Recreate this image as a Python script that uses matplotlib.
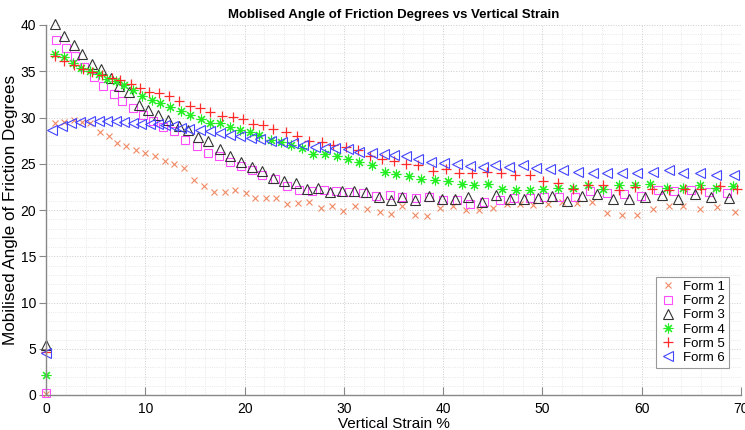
import numpy as np
import matplotlib
matplotlib.use('Agg')
import matplotlib.pyplot as plt
from matplotlib.ticker import MultipleLocator

plt.rcParams['font.family'] = ['Liberation Sans', 'DejaVu Sans']

# Form 1 (x markers)
f1_x = [0, 0.9, 1.8, 2.8, 3.6, 4.4, 5.4, 6.3, 7.2, 8.1, 9.1, 10.0, 11.0, 12.0, 12.9, 13.9,
        14.9, 15.9, 16.9, 18.0, 19.0, 20.1, 21.1, 22.2, 23.2, 24.3, 25.4, 26.5, 27.7, 28.8,
        29.9, 31.1, 32.3, 33.6, 34.7, 35.9, 37.2, 38.4, 39.7, 41.0, 42.3, 43.6, 45.0, 46.4,
        47.7, 49.1, 50.6, 52.0, 53.5, 55.0, 56.5, 58.0, 59.5, 61.1, 62.7, 64.2, 65.9, 67.6, 69.4]
f1_y = [0.1, 29.4, 29.5, 29.7, 29.5, 29.4, 28.4, 28.0, 27.2, 26.9, 26.5, 26.2, 25.8, 25.3, 25.0, 24.5,
        23.2, 22.6, 22.0, 21.9, 22.2, 21.8, 21.3, 21.3, 21.3, 20.6, 20.8, 20.9, 20.2, 20.4,
        19.9, 20.4, 20.1, 19.8, 19.6, 20.4, 19.5, 19.4, 20.2, 20.4, 20.0, 20.0, 20.2, 20.6,
        20.7, 20.5, 20.6, 20.9, 20.8, 20.9, 19.7, 19.5, 19.5, 20.1, 20.4, 20.4, 20.1, 20.3, 19.8]

# Form 2 (squares)
f2_x = [0, 1.0, 2.0, 2.9, 3.8, 4.8, 5.7, 6.8, 7.7, 8.8, 9.8, 10.8, 11.8, 12.9, 14.0, 15.2,
        16.3, 17.4, 18.5, 19.6, 20.7, 21.8, 23.1, 24.3, 25.5, 26.8, 28.0, 29.2, 30.5, 31.9,
        33.2, 34.6, 35.9, 37.3, 38.6, 40.0, 41.4, 42.7, 44.1, 45.7, 47.1, 48.7, 50.2, 51.7,
        53.3, 54.8, 56.5, 58.2, 59.9, 61.6, 63.3, 65.0, 66.8, 68.6]
f2_y = [0.2, 38.4, 37.5, 36.6, 35.5, 34.4, 33.4, 32.5, 31.8, 31.0, 30.3, 29.6, 29.0, 28.5, 27.6, 26.9,
        26.2, 25.8, 25.2, 24.8, 24.3, 23.8, 23.4, 22.6, 22.2, 22.1, 22.2, 22.1, 21.9, 21.8,
        21.5, 21.6, 21.4, 21.3, 21.4, 21.1, 21.1, 20.7, 20.9, 21.1, 21.3, 21.3, 21.4, 21.4,
        21.4, 22.1, 21.8, 21.7, 21.5, 22.2, 22.1, 22.2, 22.0, 21.8]

# Form 3 (triangles up)
f3_x = [0, 0.9, 1.8, 2.8, 3.6, 4.6, 5.5, 6.5, 7.4, 8.4, 9.4, 10.3, 11.3, 12.3, 13.4, 14.3,
        15.3, 16.3, 17.5, 18.5, 19.6, 20.7, 21.8, 22.9, 24.0, 25.2, 26.3, 27.4, 28.6, 29.8,
        31.0, 32.2, 33.5, 34.7, 35.9, 37.2, 38.6, 39.9, 41.2, 42.5, 43.9, 45.3, 46.7, 48.1,
        49.6, 51.0, 52.5, 54.0, 55.5, 57.1, 58.7, 60.3, 62.0, 63.7, 65.4, 67.0, 68.8]
f3_y = [5.4, 40.1, 38.8, 37.8, 36.9, 35.8, 35.2, 34.3, 33.4, 32.8, 31.4, 30.8, 30.3, 29.7, 29.1, 28.6,
        27.9, 27.5, 26.6, 25.8, 25.2, 24.6, 24.2, 23.5, 23.1, 22.9, 22.3, 22.4, 22.0, 22.1,
        22.1, 21.9, 21.4, 21.1, 21.4, 21.1, 21.5, 21.2, 21.2, 21.4, 20.9, 21.6, 21.2, 21.2,
        21.3, 21.5, 21.0, 21.5, 21.7, 21.2, 21.2, 21.4, 21.6, 21.2, 21.7, 21.4, 21.3]

# Form 4 (asterisks)
f4_x = [0, 0.9, 1.8, 2.7, 3.5, 4.4, 5.3, 6.1, 7.1, 7.9, 8.8, 9.7, 10.7, 11.5, 12.5, 13.6,
        14.5, 15.6, 16.5, 17.5, 18.5, 19.5, 20.5, 21.5, 22.7, 23.7, 24.7, 25.8, 26.9, 28.1,
        29.3, 30.4, 31.5, 32.8, 34.1, 35.3, 36.6, 37.8, 39.2, 40.5, 41.9, 43.1, 44.5, 45.9,
        47.3, 48.7, 50.1, 51.6, 53.1, 54.6, 56.1, 57.7, 59.3, 60.8, 62.5, 64.2, 65.9, 67.5, 69.2]
f4_y = [2.2, 36.9, 36.5, 35.9, 35.4, 35.0, 34.7, 34.2, 33.9, 33.5, 33.0, 32.3, 31.9, 31.6, 31.1, 30.7,
        30.3, 29.8, 29.4, 29.4, 29.0, 28.7, 28.4, 28.1, 27.6, 27.3, 27.0, 26.7, 26.1, 26.1,
        25.8, 25.5, 25.2, 24.9, 24.1, 23.9, 23.7, 23.3, 23.2, 23.1, 22.8, 22.7, 22.8, 22.3,
        22.2, 22.2, 22.3, 22.4, 22.4, 22.7, 22.3, 22.7, 22.7, 22.8, 22.4, 22.4, 22.7, 22.4, 22.6]

# Form 5 (plus)
f5_x = [0, 0.9, 1.8, 2.8, 3.7, 4.6, 5.6, 6.6, 7.5, 8.6, 9.5, 10.4, 11.4, 12.4, 13.4, 14.5,
        15.5, 16.5, 17.7, 18.8, 19.8, 20.8, 21.9, 22.9, 24.2, 25.3, 26.5, 27.8, 28.9, 30.2,
        31.4, 32.6, 33.8, 35.0, 36.3, 37.5, 39.0, 40.3, 41.6, 42.9, 44.4, 45.8, 47.2, 48.7,
        50.1, 51.6, 53.1, 54.6, 56.1, 57.7, 59.3, 61.0, 62.7, 64.4, 66.0, 67.9, 69.6]
f5_y = [4.6, 36.6, 36.1, 35.7, 35.2, 34.9, 34.6, 34.3, 34.1, 33.6, 33.2, 32.8, 32.6, 32.3, 31.8, 31.2,
        31.0, 30.6, 30.2, 30.1, 29.8, 29.3, 29.2, 28.8, 28.4, 28.0, 27.5, 27.3, 27.0, 26.8,
        26.5, 25.8, 25.5, 25.3, 25.0, 24.9, 24.2, 24.4, 24.0, 24.0, 24.1, 24.0, 23.8, 23.8,
        23.1, 22.9, 22.3, 22.7, 22.7, 22.2, 22.5, 22.3, 22.2, 22.3, 22.3, 22.6, 22.3]

# Form 6 (triangles left)
f6_x = [0, 0.6, 1.6, 2.5, 3.4, 4.4, 5.3, 6.1, 7.1, 7.9, 8.8, 9.6, 10.5, 11.3, 12.0, 12.8,
        13.6, 14.4, 15.5, 16.5, 17.5, 18.5, 19.5, 20.6, 21.6, 22.7, 23.8, 24.9, 25.9, 27.1,
        28.1, 29.1, 30.4, 31.5, 32.8, 34.0, 35.1, 36.3, 37.5, 38.8, 40.1, 41.4, 42.7, 44.0,
        45.2, 46.6, 48.0, 49.4, 50.8, 52.1, 53.6, 55.1, 56.5, 58.0, 59.5, 61.1, 62.7, 64.2,
        65.9, 67.5, 69.3]
f6_y = [4.5, 28.6, 29.1, 29.4, 29.5, 29.6, 29.6, 29.6, 29.6, 29.5, 29.4, 29.3, 29.3, 29.3, 29.2, 29.1,
        28.9, 28.8, 28.6, 28.5, 28.3, 28.1, 28.0, 27.8, 27.7, 27.5, 27.3, 27.2, 27.0, 26.8,
        26.7, 26.7, 26.6, 26.3, 26.2, 26.1, 25.9, 25.8, 25.5, 25.2, 25.1, 25.0, 24.8, 24.7,
        24.9, 24.7, 24.9, 24.5, 24.4, 24.3, 24.1, 24.0, 24.0, 24.0, 24.0, 24.1, 24.3, 24.0,
        24.0, 23.8, 23.8]

labels = ['Form 1', 'Form 2', 'Form 3', 'Form 4', 'Form 5', 'Form 6']

fig = plt.figure(figsize=(7.45, 4.30), dpi=100)
ax = fig.add_axes([46/745, 1 - 395/430, 695/745, 370/430])

# one plot call per form, marker-only like the matlab original
ax.plot(f1_x, f1_y, ls='none', marker='x', ms=5, mew=0.8, color='#f08a64', label=labels[0], clip_on=False)
ax.plot(f2_x, f2_y, ls='none', marker='s', ms=5.5, mew=0.8, mfc='none', mec='#ff4cff', label=labels[1], clip_on=False)
ax.plot(f3_x, f3_y, ls='none', marker='^', ms=7, mew=0.8, mfc='none', mec='#333333', label=labels[2], clip_on=False)
ax.plot(f4_x, f4_y, ls='none', marker=(8, 2, 0), ms=7, mew=0.8, color='#22ee22', label=labels[3], clip_on=False)
ax.plot(f5_x, f5_y, ls='none', marker='+', ms=7, mew=0.9, color='#ff2a2a', label=labels[4], clip_on=False)
ax.plot(f6_x, f6_y, ls='none', marker='<', ms=7, mew=0.8, mfc='none', mec='#4444ff', label=labels[5], clip_on=False)

ax.set_xlim(0, 70)
ax.set_ylim(0, 40)
ax.xaxis.set_major_locator(MultipleLocator(10))
ax.xaxis.set_minor_locator(MultipleLocator(2))
ax.yaxis.set_major_locator(MultipleLocator(5))
ax.yaxis.set_minor_locator(MultipleLocator(1))
ax.grid(which='major', ls=':', lw=0.7, color='#cccccc')
ax.grid(which='minor', ls=':', lw=0.6, color='#e2e2e2')
ax.set_axisbelow(True)

for s in ['top', 'right']:
    ax.spines[s].set_visible(False)
for s in ['left', 'bottom']:
    ax.spines[s].set_color('#888888')
    ax.spines[s].set_linewidth(1.0)
ax.tick_params(axis='x', which='major', direction='in', length=6, color='#888888', labelsize=10, pad=5)
ax.tick_params(axis='y', which='major', direction='out', length=5, color='#888888', labelsize=10, pad=2)
ax.tick_params(which='minor', length=0)

ax.set_title('Moblised Angle of Friction Degrees vs Vertical Strain', fontsize=9.5, fontweight='bold', pad=5)
ax.set_xlabel('Vertical Strain %', fontsize=11, labelpad=1)
ax.set_ylabel('Mobilised Angle of Friction Degrees', fontsize=12.3, labelpad=2)

leg = ax.legend(loc='lower right', bbox_to_anchor=(0.983, 0.073), borderaxespad=0, fontsize=9.5,
                fancybox=False, framealpha=1, edgecolor='#999999', handlelength=1.2,
                handletextpad=0.6, labelspacing=0.15, borderpad=0.3, numpoints=1)
leg.get_frame().set_linewidth(0.8)

fig.savefig('out.png', dpi=100)
